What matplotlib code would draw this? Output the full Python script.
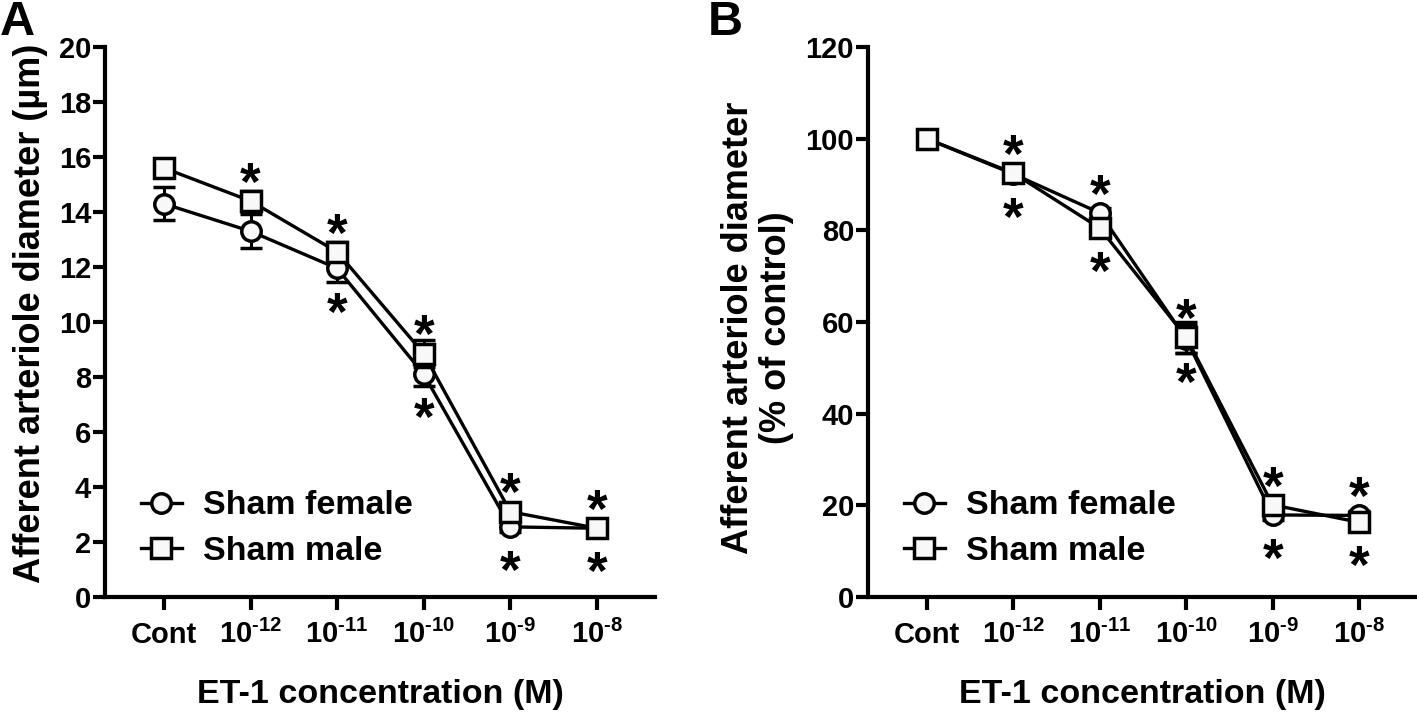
import numpy as np
import matplotlib
matplotlib.use("Agg")
import matplotlib.pyplot as plt

plt.rcParams['font.family'] = ['Liberation Sans', 'DejaVu Sans']
plt.rcParams['font.weight'] = 'bold'
plt.rcParams['mathtext.fontset'] = 'custom'
plt.rcParams['mathtext.rm'] = 'Liberation Sans:bold'
plt.rcParams['mathtext.bf'] = 'Liberation Sans:bold'

# data
tick_labels = ['Cont', r'$\mathbf{10^{\text{-}12}}$', r'$\mathbf{10^{\text{-}11}}$',
               r'$\mathbf{10^{\text{-}10}}$', r'$\mathbf{10^{\text{-}9}}$', r'$\mathbf{10^{\text{-}8}}$']

# panel A: diameter (um)
a_female = [14.3, 13.3, 11.95, 8.1, 2.55, 2.5]
a_female_err = [0.6, 0.62, 0.5, 0.42, 0.2, 0.2]
a_male = [15.6, 14.4, 12.55, 8.85, 3.1, 2.5]
a_male_err = [0.3, 0.35, 0.35, 0.5, 0.3, 0.2]
a_star_up = [False, True, True, True, True, True]      # above male
a_star_down = [False, False, True, True, True, True]   # below female

# panel B: % of control
b_female = [100, 92.3, 83.8, 56.3, 17.9, 17.8]
b_female_err = [0, 1.0, 1.0, 3.0, 1.0, 1.0]
b_male = [100, 92.5, 80.5, 56.7, 20.1, 16.3]
b_male_err = [0, 1.0, 1.5, 3.4, 1.0, 1.0]
b_star_up = [False, True, True, True, True, True]
b_star_down = [False, True, True, True, True, True]

x = np.arange(len(tick_labels))

fig = plt.figure(figsize=(14.17, 7.19), dpi=100)
axA = fig.add_axes([105/1417, 1-597/719, 550/1417, 550/719])
axB = fig.add_axes([868/1417, 1-597/719, 549/1417, 550/719])

mk = dict(color='black', lw=2.4, ms=14, mew=2.5, mfc='#f8f8f8', mec='black')
eb = dict(fmt='none', ecolor='black', elinewidth=2.2, capsize=8, capthick=2.5)


def panel(ax, fem, fem_err, mal, mal_err, up, down, ymax, ystep, ylabel):
    ax.errorbar(x, fem, yerr=fem_err, zorder=2, **eb)
    ax.plot(x, fem, marker='o', label='Sham female', zorder=3, **mk)
    ax.errorbar(x, mal, yerr=mal_err, zorder=4, **eb)
    ax.plot(x, mal, marker='s', label='Sham male', zorder=5, **mk)

    for i in range(len(x)):
        top = max(fem[i], mal[i])
        bot = min(fem[i], mal[i])
        if up[i]:
            ax.annotate('*', xy=(x[i], top), xytext=(0, 1), textcoords='offset points',
                        ha='center', va='baseline', fontsize=38, fontweight='bold')
        if down[i]:
            ax.annotate('*', xy=(x[i], bot), xytext=(0, -44), textcoords='offset points',
                        ha='center', va='baseline', fontsize=38, fontweight='bold')

    ax.set_xlim(-0.68, 5.67)
    ax.set_ylim(0, ymax)
    ax.set_yticks(np.arange(0, ymax + 1, ystep))
    ax.set_xticks(x)
    ax.set_xticklabels(tick_labels)
    for sp in ['top', 'right']:
        ax.spines[sp].set_visible(False)
    for sp in ['left', 'bottom']:
        ax.spines[sp].set_linewidth(3)
        ax.spines[sp].set_capstyle('projecting')
    ax.tick_params(axis='both', length=9, width=3, labelsize=21)
    ax.tick_params(axis='y', pad=1)
    ax.tick_params(axis='x', pad=24)
    for lab in ax.get_xticklabels():
        lab.set_va('baseline')
    for lab in ax.get_yticklabels():
        lab.set_fontweight('bold')

    ax.set_xlabel('ET-1 concentration (M)', fontsize=24.5, fontweight='bold')
    ax.xaxis.set_label_coords(0.5, -0.15)
    ax.set_ylabel(ylabel, fontsize=26, fontweight='bold', multialignment='center',
                  linespacing=1.1)

    ax.legend(loc='lower left', bbox_to_anchor=(0.065, 0.055), frameon=False,
              fontsize=24.5, handlelength=1.2, handletextpad=0.62, labelspacing=0.42,
              borderpad=0, borderaxespad=0, numpoints=1)


panel(axA, a_female, a_female_err, a_male, a_male_err, a_star_up, a_star_down,
      20, 2, 'Afferent arteriole diameter (µm)')
axA.yaxis.set_label_coords(-0.104, 0.515)

panel(axB, b_female, b_female_err, b_male, b_male_err, b_star_up, b_star_down,
      120, 20, 'Afferent arteriole diameter\n(% of control)')
axB.yaxis.set_label_coords(-0.135, 0.49)

fig.text(0.0, 1.0, 'A', fontsize=35, fontweight='bold', va='top', ha='left')
fig.text(708/1417, 1.0, 'B', fontsize=35, fontweight='bold', va='top', ha='left')

fig.savefig('out.png', dpi=100)
